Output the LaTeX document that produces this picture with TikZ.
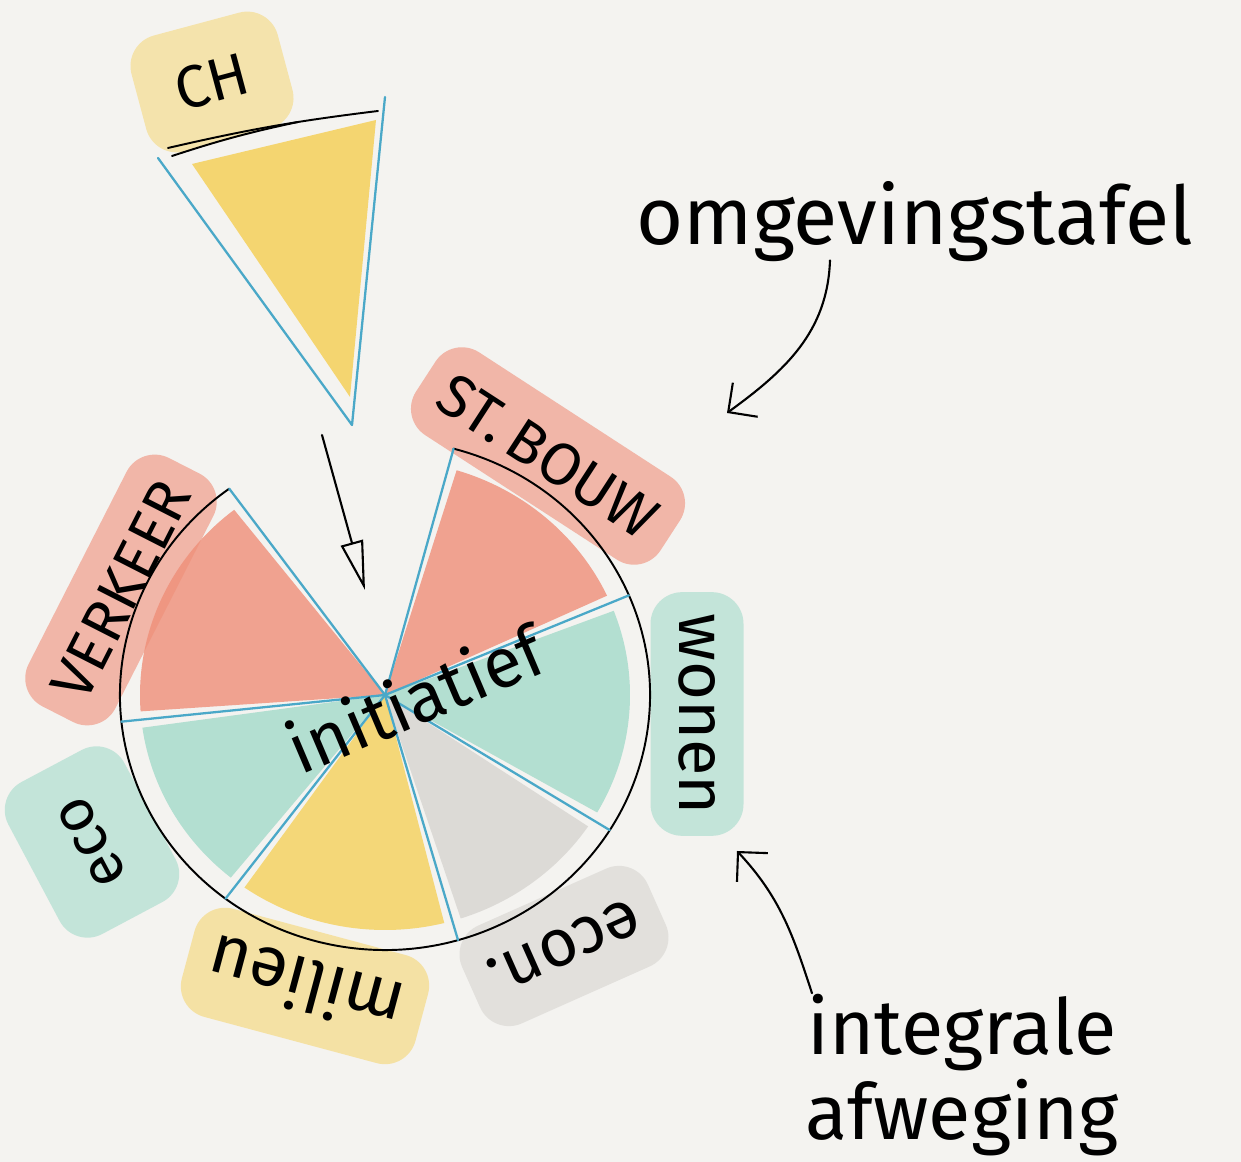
\documentclass[tikz,border=0pt]{standalone}
\usepackage{fontspec}
\setmainfont{Fira Sans}
\usetikzlibrary{arrows.meta}
\definecolor{paper}{HTML}{F4F3F0}
\definecolor{rood}{HTML}{EF8E78}
\definecolor{groen}{HTML}{A3DACA}
\definecolor{geel}{HTML}{F4D05A}
\definecolor{grijs}{HTML}{D6D4D0}
\definecolor{lijn}{HTML}{4AA8C8}

\begin{document}
\begin{tikzpicture}[x=0.02cm, y=0.02cm, line cap=round, line join=round,
		label_style/.style={font=\fontsize{34}{38}\selectfont, inner xsep=12pt, inner ysep=16pt, rounded corners=18pt, fill opacity=0.6, text opacity=1},
		text_style/.style={font=\fontsize{46}{52}\selectfont, align=center},
		rim_style/.style={draw=black, line width=1.1pt},
		edge_style/.style={draw=lijn, line width=1.3pt},
		arrow_style/.style={draw=black, line width=1.2pt, -{Straight Barb[length=12pt, width=24pt]}},
		open_arrow/.style={draw=black, line width=1.2pt, -{Triangle[open, length=28pt, width=13pt]}}]

		\useasboundingbox (0,0) rectangle (1241,1162);
		\fill[paper] (0,0) rectangle (1241,1162);

		\node[label_style, fill=rood, rotate=-33] (stbouw) at (548,706) {ST.\,BOUW};
		\node[label_style, fill=groen, rotate=-90, font=\fontsize{38}{40}\selectfont] (wonen) at (697,448) {wonen};
		\node[label_style, fill=grijs, rotate=-156, inner ysep=20pt, font=\fontsize{38}{40}\selectfont] (econ) at (564,216) {econ.};
		\node[label_style, fill=geel, fill opacity=0.5, rotate=165, font=\fontsize{40}{42}\selectfont] (milieu) at (305,176) {milieu};
		\node[label_style, fill=groen, rotate=118, inner xsep=22pt, inner ysep=28pt] (eco) at (92,320) {eco};
		\node[label_style, fill=rood, rotate=63] (verkeer) at (121,572) {VERKEER};
		\node[label_style, fill=geel, fill opacity=0.45, rotate=15, inner sep=22pt] (ch) at (212,1080) {CH};

		\coordinate (c) at (385,467);
		\foreach \a [count=\i] in {75,23,-32,-74,-127,-174,126}
			\path (c) ++(\a:265 and 255) coordinate (r\i);

		\foreach \a/\b/\kleur in {23/75/rood, -32/23/groen, -74/-32/grijs, -127/-74/geel, -174/-127/groen, 126/186/rood}
			\fill[\kleur, fill opacity=0.8] (c) -- ++(\a+2:245 and 235) arc[start angle=\a+2, end angle=\b-2, x radius=245, y radius=235] -- cycle;

		\draw[rim_style] (r1) arc[start angle=75, end angle=-234, x radius=265, y radius=255];
		\foreach \i in {1,...,7}
			\draw[edge_style] (c) -- (r\i);

		\coordinate (ch_tip) at (352,737);
		\coordinate (ch_l) at (158,1004);
		\coordinate (ch_r) at (385,1065);
		\fill[geel, fill opacity=0.85] (192,998) -- (376,1042) -- (350,765) -- cycle;
		\draw[edge_style] (ch_tip) -- (ch_l);
		\draw[edge_style] (ch_tip) -- (ch_r);
		\draw[rim_style] (168,1014) to[bend left=3] (378,1051);
		\draw[rim_style] (172,1006) to[bend left=3] (298,1040);

		\node[text_style, font=\fontsize{40}{44}\selectfont, rotate=23] (initiatief) at (415,464) {initiatief};
		\coordinate (pijl) at (365,572);
		\draw[open_arrow] (ch_tip) ++(-30,-10) -- (pijl);

		\node[text_style] (omgeving) at (915,940) {omgevingstafel};
		\coordinate (omg_end) at (727,749);
		\draw[arrow_style] (omgeving.south) ++(-85,8) to[out=-92, in=36] (omg_end);

		\node[text_style, font=\fontsize{44}{48}\selectfont] (afweging) at (962,87) {integrale\\afweging};
		\coordinate (afw_end) at (737,311);
		\draw[arrow_style] (afweging.north) ++(-150,-5) to[out=108, in=-47] (afw_end);
\end{tikzpicture}
\end{document}
